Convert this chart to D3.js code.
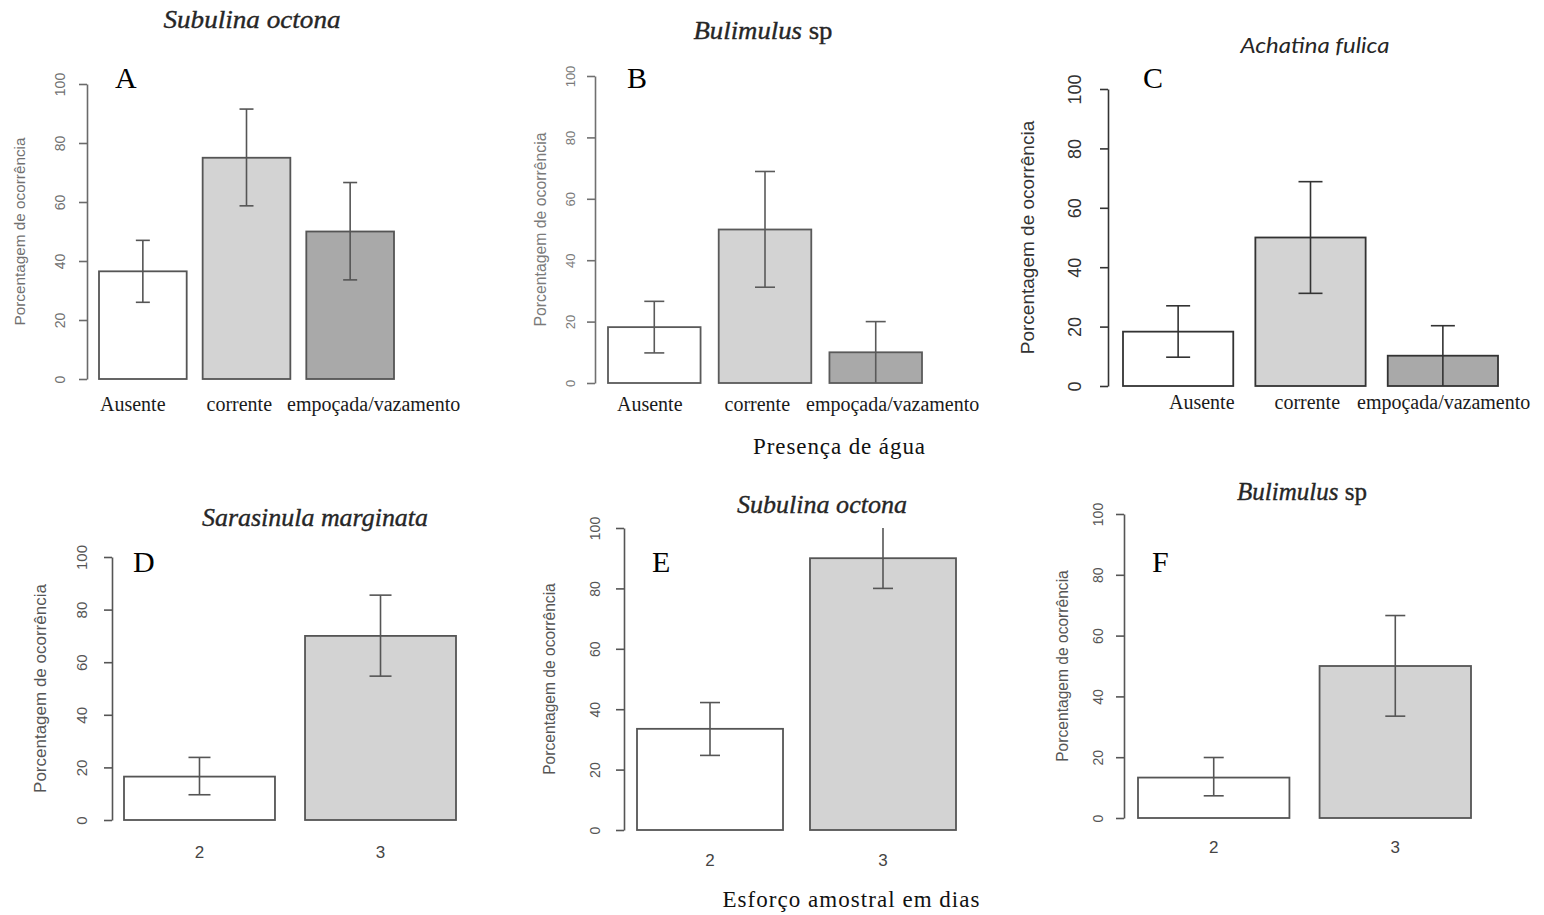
<!DOCTYPE html>
<html>
<head>
<meta charset="utf-8">
<script src="https://cdn.jsdelivr.net/npm/d3@7"></script>
<style>
  body { margin: 0; background: #fff; }
</style>
</head>
<body>
<div id="chart"></div>
<script>
// categories and ticks
const waterCats = ["Ausente", "corrente", "empoçada/vazamento"];
const effortCats = ["2", "3"];
const yTicks = [0, 20, 40, 60, 80, 100];
const barFills = ["#ffffff", "#d3d3d3", "#a9a9a9"];

// percentage of occurrence and error-bar limits
const subulinaWaterPct = [36.5, 75, 50];
const subulinaWaterLow = [26, 58.7, 33.6];
const subulinaWaterHigh = [47, 91.5, 66.6];

const bulimulusWaterPct = [18.2, 50, 10];
const bulimulusWaterLow = [9.8, 31.2, 0];
const bulimulusWaterHigh = [26.6, 68.9, 20];

const achatinaWaterPct = [18.3, 50, 10.2];
const achatinaWaterLow = [9.7, 31.2, 0];
const achatinaWaterHigh = [27, 68.8, 20.3];

const sarasinulaEffortPct = [16.5, 70];
const sarasinulaEffortLow = [9.6, 54.7];
const sarasinulaEffortHigh = [23.8, 85.5];

const subulinaEffortPct = [33.5, 90];
const subulinaEffortLow = [24.7, 80];
const subulinaEffortHigh = [42.2, 100];

const bulimulusEffortPct = [13.3, 50];
const bulimulusEffortLow = [7.3, 33.5];
const bulimulusEffortHigh = [19.9, 66.6];

const yTitle = "Porcentagem de ocorrência";

var svg = d3.select('#chart').append('svg')
    .attr('width', 1544)
    .attr('height', 915)
    .style('background', '#fff');

// layout of each small plot
var panels = [
    {letter: 'A', letterX: 115, letterY: 88,
     title: [['Subulina octona', true]], titleX: 252, titleY: 28, titleW: 177, titleFont: 'Liberation Serif',
     cats: waterCats, pct: subulinaWaterPct, low: subulinaWaterLow, high: subulinaWaterHigh,
     axisX: 87, y0: 379, y100: 84, x0: 99, x1: 394, pad: 0.154,
     tickFont: 14, tickOff: 27, yTitleX: 20, yTitleSize: 15.3,
     cap: 7, line: '#6a6a6a', text: '#707070', bar: '#555',
     labelStart: 100, labelY: 411, labelGaps: [41, 15]},
    {letter: 'B', letterX: 627, letterY: 88,
     title: [['Bulimulus', true], [' sp', false]], titleX: 763, titleY: 39, titleW: 139, titleFont: 'Liberation Serif',
     cats: waterCats, pct: bulimulusWaterPct, low: bulimulusWaterLow, high: bulimulusWaterHigh,
     axisX: 595, y0: 383, y100: 76, x0: 608, x1: 922, pad: 0.164,
     tickFont: 13, tickOff: 25, yTitleX: 540, yTitleSize: 15.8,
     cap: 10, line: '#707070', text: '#7a7a7a', bar: '#5a5a5a',
     labelStart: 617, labelY: 411, labelGaps: [42, 16]},
    {letter: 'C', letterX: 1143, letterY: 88,
     title: [['Achatina fulica', true]], titleX: 1315, titleY: 53, titleW: 149, titleFont: 'Lato',
     cats: waterCats, pct: achatinaWaterPct, low: achatinaWaterLow, high: achatinaWaterHigh,
     axisX: 1108, y0: 386, y100: 89, x0: 1123, x1: 1498, pad: 0.167,
     tickFont: 18, tickOff: 33, yTitleX: 1027, yTitleSize: 19,
     cap: 12, line: '#333', text: '#333', bar: '#333',
     labelStart: 1169, labelY: 409, labelGaps: [40, 17]},
    {letter: 'D', letterX: 133, letterY: 572,
     title: [['Sarasinula marginata', true]], titleX: 315, titleY: 526, titleW: 226, titleFont: 'Liberation Serif',
     cats: effortCats, pct: sarasinulaEffortPct, low: sarasinulaEffortLow, high: sarasinulaEffortHigh,
     axisX: 112, y0: 820, y100: 557, x0: 124, x1: 456, pad: 0.166,
     tickFont: 15, tickOff: 30, yTitleX: 40, yTitleSize: 17,
     cap: 11, line: '#555', text: '#555', bar: '#555', labelY: 858},
    {letter: 'E', letterX: 652, letterY: 572,
     title: [['Subulina octona', true]], titleX: 822, titleY: 513, titleW: 170, titleFont: 'Liberation Serif',
     cats: effortCats, pct: subulinaEffortPct, low: subulinaEffortLow, high: subulinaEffortHigh,
     axisX: 624, y0: 830, y100: 528, x0: 637, x1: 956, pad: 0.156,
     tickFont: 14, tickOff: 29, yTitleX: 550, yTitleSize: 15.6,
     cap: 10, line: '#555', text: '#555', bar: '#555', labelY: 866},
    {letter: 'F', letterX: 1152, letterY: 572,
     title: [['Bulimulus', true], [' sp', false]], titleX: 1302, titleY: 500, titleW: 130, titleFont: 'Liberation Serif',
     cats: effortCats, pct: bulimulusEffortPct, low: bulimulusEffortLow, high: bulimulusEffortHigh,
     axisX: 1124, y0: 818, y100: 514, x0: 1138, x1: 1471, pad: 0.166,
     tickFont: 14, tickOff: 26, yTitleX: 1063, yTitleSize: 15.6,
     cap: 10, line: '#555', text: '#555', bar: '#555', labelY: 853}
];

panels.forEach(function (p) {
    var g = svg.append('g');

    var y = d3.scaleLinear().domain([0, 100]).range([p.y0, p.y100]);
    var x = d3.scaleBand().domain(p.cats).range([p.x0, p.x1])
        .paddingInner(p.pad).paddingOuter(0);

    // bars
    g.selectAll('rect.bar')
        .data(p.cats)
        .join('rect')
        .attr('class', 'bar')
        .attr('x', function (d) { return x(d); })
        .attr('y', function (d, i) { return y(p.pct[i]); })
        .attr('width', x.bandwidth())
        .attr('height', function (d, i) { return y(0) - y(p.pct[i]); })
        .attr('fill', function (d, i) { return barFills[i]; })
        .attr('stroke', p.bar)
        .attr('stroke-width', 1.8);

    // error bars (caps are clipped off at the top of the plot, 100)
    p.cats.forEach(function (c, i) {
        var cx = x(c) + x.bandwidth() / 2;
        g.append('line')
            .attr('x1', cx).attr('x2', cx)
            .attr('y1', y(p.low[i])).attr('y2', y(p.high[i]))
            .attr('stroke', p.bar).attr('stroke-width', 1.6);
        [p.low[i], p.high[i]].forEach(function (v) {
            if (v <= 0 || v >= 100) return;
            g.append('line')
                .attr('x1', cx - p.cap).attr('x2', cx + p.cap)
                .attr('y1', y(v)).attr('y2', y(v))
                .attr('stroke', p.bar).attr('stroke-width', 1.6);
        });
    });

    // y axis, R style with rotated labels
    var ax = g.append('g')
        .attr('transform', 'translate(' + p.axisX + ',0)')
        .call(d3.axisLeft(y).tickValues(yTicks).tickSize(8).tickSizeOuter(0));
    ax.attr('font-size', p.tickFont).attr('font-family', 'Liberation Sans, Arial, sans-serif');
    ax.select('.domain').attr('stroke', p.line).attr('stroke-width', 1.6);
    ax.selectAll('.tick line').attr('stroke', p.line).attr('stroke-width', 1.6);
    ax.selectAll('.tick text')
        .attr('transform', 'rotate(-90)')
        .attr('x', 0)
        .attr('y', -p.tickOff)
        .attr('dy', '0.35em')
        .attr('text-anchor', 'middle')
        .attr('fill', p.text);

    // y axis title
    g.append('text')
        .attr('transform', 'translate(' + p.yTitleX + ',' + ((p.y0 + p.y100) / 2) + ') rotate(-90)')
        .attr('dy', '0.35em')
        .attr('text-anchor', 'middle')
        .attr('font-family', 'Liberation Sans, Arial, sans-serif')
        .attr('font-size', p.yTitleSize)
        .attr('fill', p.text)
        .text(yTitle);

    // category labels
    if (p.labelStart != null) {
        var lx = p.labelStart;
        p.cats.forEach(function (c, i) {
            var t = g.append('text')
                .attr('x', lx).attr('y', p.labelY)
                .attr('font-family', 'Liberation Serif, Times New Roman, serif')
                .attr('font-size', 20)
                .attr('fill', '#1a1a1a')
                .text(c);
            lx += t.node().getComputedTextLength() + (p.labelGaps[i] || 0);
        });
    } else {
        g.selectAll('text.cat')
            .data(p.cats)
            .join('text')
            .attr('class', 'cat')
            .attr('x', function (d) { return x(d) + x.bandwidth() / 2; })
            .attr('y', p.labelY)
            .attr('text-anchor', 'middle')
            .attr('font-family', 'Liberation Sans, Arial, sans-serif')
            .attr('font-size', 17)
            .attr('fill', '#444')
            .text(function (d) { return d; });
    }

    // species title
    var tt = g.append('text')
        .attr('x', p.titleX).attr('y', p.titleY)
        .attr('text-anchor', 'middle')
        .attr('font-family', p.titleFont + ', serif')
        .attr('font-size', p.titleFont === 'Lato' ? 21 : 25)
        .attr('fill', '#262626')
        .attr('stroke', '#262626')
        .attr('stroke-width', p.titleFont === 'Lato' ? 0 : 0.35)
        .attr('textLength', p.titleW)
        .attr('lengthAdjust', 'spacingAndGlyphs');
    p.title.forEach(function (part) {
        tt.append('tspan')
            .attr('font-style', part[1] ? 'italic' : 'normal')
            .text(part[0]);
    });

    // panel letter
    g.append('text')
        .attr('x', p.letterX).attr('y', p.letterY)
        .attr('font-family', 'Liberation Serif, Times New Roman, serif')
        .attr('font-size', 30)
        .attr('fill', '#000')
        .text(p.letter);
});

// shared x axis titles
svg.append('text')
    .attr('x', 839).attr('y', 454)
    .attr('text-anchor', 'middle')
    .attr('font-family', 'Liberation Serif, Times New Roman, serif')
    .attr('font-size', 23)
    .attr('fill', '#111')
    .attr('textLength', 172)
    .attr('lengthAdjust', 'spacing')
    .text('Presença de água');

svg.append('text')
    .attr('x', 851).attr('y', 907)
    .attr('text-anchor', 'middle')
    .attr('font-family', 'Liberation Serif, Times New Roman, serif')
    .attr('font-size', 23)
    .attr('fill', '#111')
    .attr('textLength', 257)
    .attr('lengthAdjust', 'spacing')
    .text('Esforço amostral em dias');
</script>
</body>
</html>
